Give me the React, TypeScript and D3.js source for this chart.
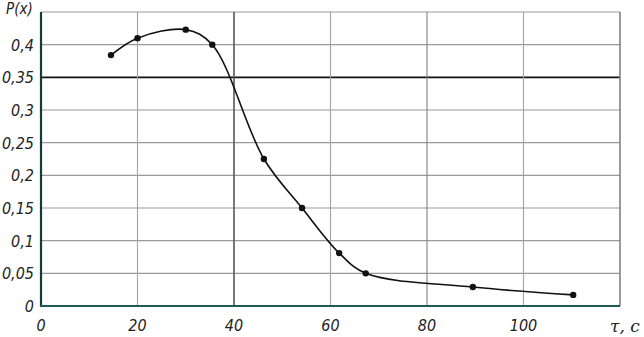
import * as d3 from "d3";

const tau = [14.5, 20, 30, 35.5, 46.2, 54.1, 61.8, 67.3, 89.5, 110.3];
const prob = [0.384, 0.41, 0.423, 0.4, 0.225, 0.15, 0.081, 0.05, 0.029, 0.017];
const xTicks = [0, 20, 40, 60, 80, 100];
const yTicks = [0, 0.05, 0.1, 0.15, 0.2, 0.25, 0.3, 0.35, 0.4];

const W = 644;
const H = 337;
const m = { left: 41, right: 24, top: 12, bottom: 31 };

const fmt = (v: number) => String(+v.toFixed(2)).replace(".", ",");

export default function App() {
  const x = d3.scaleLinear().domain([0, 120]).range([m.left, W - m.right]);
  const y = d3.scaleLinear().domain([0, 0.45]).range([H - m.bottom, m.top]);

  const pts = tau.map((t, i) => ({ t, p: prob[i] }));
  const line = d3
    .line<{ t: number; p: number }>()
    .x((d) => x(d.t))
    .y((d) => y(d.p))
    .curve(d3.curveCatmullRom.alpha(0.5));

  const font = "'Liberation Sans Narrow', 'DejaVu Sans Condensed', sans-serif";

  return (
    <svg
      width={W}
      height={H}
      style={{ position: "absolute", left: 0, top: 0, background: "#fff" }}
      fontFamily={font}
      fontStyle="italic"
    >
      {/* Horizontal grid */}
      {yTicks.concat([0.45]).map((v) => (
        <line
          key={"h" + v}
          x1={x(0)}
          x2={x(120)}
          y1={y(v)}
          y2={y(v)}
          stroke={v === 0.35 ? "#111" : "#999"}
          strokeWidth={v === 0.35 ? 1.6 : 1.2}
        />
      ))}
      {/* Vertical grid */}
      {[20, 40, 60, 80, 100, 120].map((v) => (
        <line
          key={"v" + v}
          x1={x(v)}
          x2={x(v)}
          y1={y(0.45)}
          y2={y(0)}
          stroke={v === 40 ? "#555" : v === 80 || v === 120 ? "#808080" : "#a3a3a3"}
          strokeWidth={v === 40 || v === 120 ? 1.6 : 1.1}
        />
      ))}
      {/* Axes */}
      <line x1={x(0)} x2={x(0)} y1={y(0.45)} y2={y(0) + 1} stroke="#123c36" strokeWidth={2.2} />
      <line x1={x(0) - 1} x2={x(120)} y1={y(0)} y2={y(0)} stroke="#1d5a52" strokeWidth={2} />

      {/* Curve */}
      <path d={line(pts) ?? ""} fill="none" stroke="#111" strokeWidth={1.6} />
      {pts.map((d, i) => (
        <circle key={i} cx={x(d.t)} cy={y(d.p)} r={3.2} fill="#111" />
      ))}

      {/* Y labels */}
      {yTicks.map((v) => (
        <text
          key={"yl" + v}
          x={x(0) - 7}
          y={y(v) + 6}
          textAnchor="end"
          fontSize={16}
          fill="#222"
        >
          {fmt(v)}
        </text>
      ))}
      {/* X labels */}
      {xTicks.map((v) => (
        <text
          key={"xl" + v}
          x={x(v)}
          y={y(0) + 25}
          textAnchor="middle"
          fontSize={16}
          fill="#222"
        >
          {v}
        </text>
      ))}
      <text x={6} y={14} fontSize={15} fill="#222">
        P(x)
      </text>
      <text x={610} y={332} fontSize={17} fill="#222" fontFamily="'DejaVu Serif', serif">
        τ, c
      </text>
    </svg>
  );
}
